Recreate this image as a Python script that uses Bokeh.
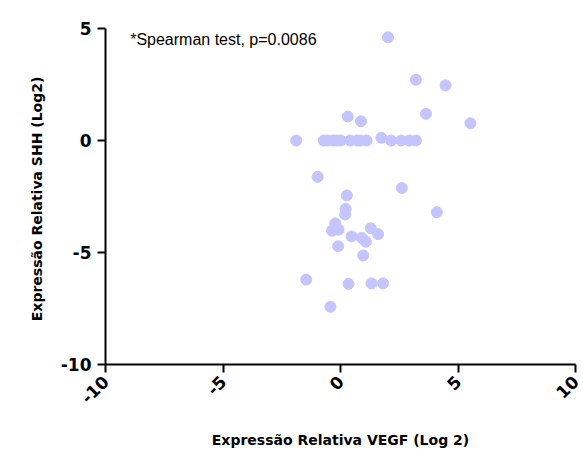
import math
from bokeh.plotting import figure
from bokeh.models import Label, FixedTicker
from bokeh.embed import file_html
from bokeh.resources import INLINE

# data
vegf = [2.02, 3.21, 4.47, 0.31, 0.87, 3.64, 5.53,
        -1.88, -0.71, -0.55, -0.32, -0.15, 0.01, 0.41, 0.71, 0.85, 1.11, 1.74, 2.16, 2.58, 2.93, 3.21,
        -0.97, 2.61, 0.27, 0.22, 0.20, 4.10, -0.22, -0.36, -0.08, 1.29, 1.60, 0.47, 0.90, 1.08,
        -0.10, 0.97, -1.46, 0.34, 1.32, 1.81, -0.43]
shh = [4.61, 2.71, 2.46, 1.07, 0.86, 1.19, 0.77,
       0.0, 0.0, 0.0, 0.0, 0.0, 0.0, 0.0, 0.0, 0.0, 0.0, 0.12, 0.0, 0.0, 0.0, 0.0,
       -1.62, -2.12, -2.45, -3.05, -3.30, -3.20, -3.70, -4.03, -3.98, -3.92, -4.18, -4.28, -4.35, -4.52,
       -4.72, -5.13, -6.21, -6.40, -6.38, -6.38, -7.42]
x_ticks = [-10, -5, 0, 5, 10]
y_ticks = [-10, -5, 0, 5]
annotation = "*Spearman test, p=0.0086"
annotation_pos = (-8.95, 4.5)
x_title = "Expressão Relativa VEGF (Log 2)"
y_title = "Expressão Relativa  SHH (Log2)"

FONT = "Liberation Sans"
TICK_FONT = "DejaVu Sans"
TITLE_FONT = "DejaVu Sans"

p = figure(width=583, height=452, output_backend="svg", toolbar_location=None,
           x_range=(-10, 10), y_range=(-10, 5),
           min_border_left=105, min_border_right=8, min_border_top=28, min_border_bottom=88)
p.outline_line_color = None
p.grid.visible = False
p.background_fill_color = "white"

p.scatter(vegf, shh, size=11, fill_color="#C4C4FF", line_color="#C4C4FF", marker="circle")

for ax in (p.xaxis[0], p.yaxis[0]):
    ax.axis_line_width = 2
    ax.axis_line_color = "black"
    ax.major_tick_line_width = 2
    ax.major_tick_line_color = "black"
    ax.major_tick_out = 8
    ax.major_tick_in = 0
    ax.minor_tick_line_color = None
    ax.major_label_text_font = TICK_FONT
    ax.major_label_text_font_style = "bold"
    ax.major_label_text_font_size = "17px"
    ax.major_label_text_color = "black"
    ax.axis_label_text_font = TITLE_FONT
    ax.axis_label_text_font_style = "bold"
    ax.axis_label_text_font_size = "14px"
    ax.axis_label_text_color = "black"

p.xaxis.ticker = FixedTicker(ticks=x_ticks)
p.yaxis.ticker = FixedTicker(ticks=y_ticks)
p.xaxis.major_label_overrides = {t: str(t) for t in x_ticks}
p.yaxis.major_label_overrides = {t: str(t) for t in y_ticks}
p.xaxis.major_label_orientation = math.pi / 4
p.yaxis.major_label_orientation = "horizontal"
p.xaxis.axis_label = x_title
p.yaxis.axis_label = y_title
p.xaxis.axis_label_standoff = 20
p.yaxis.axis_label_standoff = 13
p.yaxis.major_label_standoff = 6
p.xaxis.major_label_standoff = 6

p.add_layout(Label(x=annotation_pos[0], y=annotation_pos[1],
                   text=annotation, text_font=FONT, text_font_size="16px",
                   text_color="black", text_baseline="middle"))

open("out.html", "w").write(file_html(p, INLINE))
